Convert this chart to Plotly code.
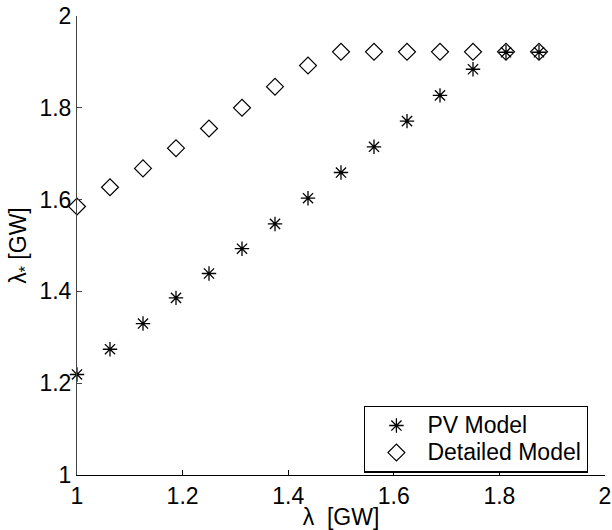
import plotly.graph_objects as go

# Load levels (GW)
lam = [1.0, 1.0625, 1.125, 1.1875, 1.25, 1.3125, 1.375, 1.4375,
       1.5, 1.5625, 1.625, 1.6875, 1.75, 1.8125, 1.875]

# Critical load from the PV model
pv_model = [1.219, 1.274, 1.330, 1.386, 1.439, 1.493, 1.547, 1.603,
            1.659, 1.715, 1.771, 1.827, 1.884, 1.921, 1.921]

# Critical load from the detailed model
detailed_model = [1.585, 1.627, 1.668, 1.712, 1.755, 1.800, 1.846, 1.892,
                  1.922, 1.922, 1.922, 1.922, 1.922, 1.922, 1.922]

tick_vals = [1, 1.2, 1.4, 1.6, 1.8, 2]
tick_text = ["1", "1.2", "1.4", "1.6", "1.8", "2"]

series_names = ["PV Model", "Detailed Model"]

FONT = "Liberation Sans, Arial, sans-serif"
FS = 23


def legend_label(text):
    # full-size label text inside a tighter legend row
    return f"<span style='font-size:{FS}px'>{text}</span>"


fig = go.Figure()
fig.add_trace(go.Scatter(
    x=lam, y=pv_model, mode="markers", name=legend_label(series_names[0]),
    marker=dict(symbol="asterisk-open", size=12, color="black",
                line=dict(color="black", width=1.3)),
    cliponaxis=False,
))
fig.add_trace(go.Scatter(
    x=lam, y=detailed_model, mode="markers", name=legend_label(series_names[1]),
    marker=dict(symbol="diamond-open", size=13, color="black",
                line=dict(color="black", width=1.2)),
    cliponaxis=False,
))

axis_common = dict(
    range=[1, 2], tickvals=tick_vals, ticktext=tick_text,
    showgrid=False, zeroline=False, showline=True,
    linewidth=1, ticks="inside", ticklen=5,
    tickfont=dict(family=FONT, size=FS, color="black"),
    fixedrange=True, automargin=False,
)

fig.update_layout(
    width=612, height=530,
    margin=dict(l=77, r=7, t=16, b=55),
    paper_bgcolor="white", plot_bgcolor="white",
    font=dict(family=FONT, size=FS, color="black"),
    xaxis=dict(**axis_common, linecolor="black", tickcolor="black",
               title=dict(text="λ  [GW]", standoff=0,
                          font=dict(family=FONT, size=FS))),
    yaxis=dict(**axis_common, linecolor="#444", tickcolor="#444",
               title=dict(text="λ<sub>*</sub> [GW]", standoff=6,
                          font=dict(family=FONT, size=FS))),
    legend=dict(
        x=0.968, y=0.151, xanchor="right", yanchor="top",
        bgcolor="white", bordercolor="black", borderwidth=1.3,
        font=dict(family=FONT, size=18.5, color="black"),
        itemwidth=52,
    ),
    showlegend=True,
)

fig.write_html("out.html")
